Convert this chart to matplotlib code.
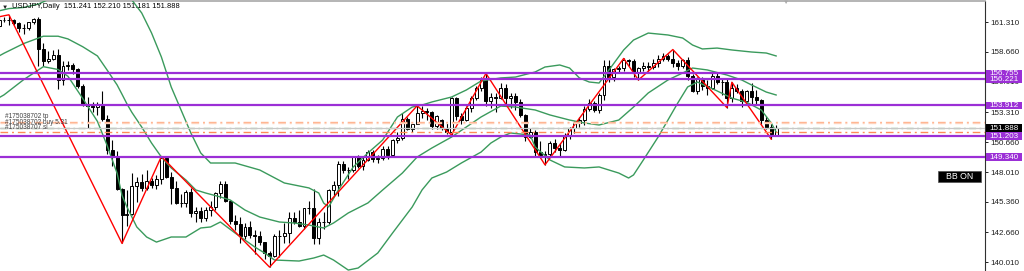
import numpy as np
import matplotlib
matplotlib.use("Agg")
import matplotlib.pyplot as plt
from matplotlib.patches import Rectangle
from matplotlib.transforms import blended_transform_factory

plt.rcParams['font.family'] = ['Liberation Sans', 'DejaVu Sans']

W, H = 1024, 271

# USDJPY daily, 1 Jul 2024 .. 10 Feb 2025
opens = [161.00, 161.46, 161.45, 161.50, 161.20, 160.75, 160.82, 161.30, 161.62, 158.88,
         157.88, 158.06, 158.38, 156.18, 157.38, 157.48, 157.10, 155.62, 153.92, 153.90,
         153.75, 153.95, 152.72, 149.98, 149.35, 146.52, 144.20, 144.30, 146.75, 147.15,
         146.62, 147.20, 146.85, 147.35, 149.28, 147.60, 146.60, 145.25, 145.28, 146.25,
         144.35, 144.55, 143.95, 144.60, 144.95, 146.15, 146.95, 145.45, 143.70, 143.40,
         142.30, 143.15, 142.40, 142.30, 141.80, 140.85, 140.60, 142.35, 142.30, 142.60,
         143.90, 143.60, 143.20, 144.80, 144.82, 142.20, 143.62, 143.55, 146.40, 146.90,
         148.70, 148.20, 148.22, 149.30, 148.58, 149.12, 149.75, 149.20, 149.25, 150.05,
         149.50, 150.85, 151.05, 152.70, 151.85, 152.30, 153.25, 153.40, 153.35, 152.05,
         152.60, 151.90, 151.60, 154.60, 152.95, 152.65, 153.70, 154.60, 155.45, 156.30,
         154.30, 154.65, 154.60, 155.45, 154.55, 154.75, 154.20, 153.05, 151.10, 151.55,
         149.75, 149.55, 149.60, 150.60, 150.10, 150.00, 151.25, 151.95, 152.40, 152.60,
         153.60, 154.10, 153.50, 154.80, 157.40, 156.40, 157.15, 157.20, 157.95, 157.85,
         156.90, 157.20, 157.45, 157.30, 157.65, 158.05, 158.30, 158.00, 157.70, 157.45,
         157.95, 156.50, 155.20, 156.30, 155.60, 155.50, 156.50, 156.00, 155.95, 154.55,
         155.50, 155.20, 154.30, 155.20, 154.65, 154.40, 152.65, 152.00, 151.241]
highs = [161.72, 161.74, 161.95, 161.55, 161.30, 161.10, 161.35, 161.70, 161.76, 159.45,
         158.70, 158.85, 158.88, 157.85, 157.85, 157.70, 157.20, 155.85, 154.65, 154.25,
         154.20, 155.22, 153.05, 150.88, 149.90, 146.60, 146.40, 147.90, 147.55, 147.80,
         148.20, 147.50, 147.75, 149.39, 149.30, 148.00, 147.20, 146.10, 146.45, 146.55,
         144.90, 144.90, 144.90, 145.45, 146.25, 147.20, 147.20, 145.55, 144.20, 144.05,
         143.50, 143.65, 142.85, 142.75, 141.85, 141.00, 142.50, 142.85, 143.50, 144.50,
         144.45, 144.65, 144.85, 145.40, 146.50, 143.95, 144.50, 146.50, 147.20, 149.00,
         148.95, 148.45, 149.40, 149.55, 149.35, 149.95, 149.98, 149.55, 150.30, 150.30,
         150.95, 151.55, 153.20, 152.90, 152.40, 153.88, 153.85, 153.70, 153.40, 153.10,
         152.75, 152.40, 154.70, 154.70, 153.25, 153.85, 154.75, 155.60, 156.40, 156.75,
         155.00, 155.00, 155.90, 155.85, 155.00, 155.00, 154.50, 153.15, 151.95, 151.75,
         150.75, 149.90, 150.75, 150.95, 150.55, 151.45, 152.00, 152.55, 152.85, 153.90,
         154.45, 154.35, 155.00, 157.90, 157.95, 157.25, 157.40, 158.08, 158.00, 158.05,
         157.35, 157.80, 157.75, 158.00, 158.40, 158.55, 158.45, 158.87, 157.95, 158.05,
         158.20, 156.70, 156.45, 156.40, 156.20, 156.75, 156.85, 156.30, 156.25, 155.97,
         155.85, 155.35, 155.30, 155.88, 155.30, 154.45, 152.95, 152.40, 152.210]
lows = [160.82, 161.27, 161.05, 161.05, 160.45, 160.25, 160.60, 161.10, 157.44, 157.38,
        157.65, 157.90, 155.37, 155.75, 157.02, 156.70, 155.45, 153.85, 151.94, 153.30,
        153.10, 152.55, 149.62, 148.51, 146.42, 141.68, 143.20, 144.20, 145.35, 146.30,
        146.40, 146.55, 146.50, 146.95, 147.50, 145.20, 145.20, 144.90, 144.95, 144.00,
        143.55, 143.60, 143.65, 144.10, 144.65, 145.70, 145.35, 143.40, 142.85, 141.75,
        142.05, 142.20, 140.70, 141.50, 140.30, 139.58, 140.50, 140.45, 141.75, 141.75,
        143.40, 143.10, 142.95, 144.30, 141.65, 141.65, 143.00, 143.40, 145.90, 145.90,
        147.90, 147.35, 148.00, 148.35, 148.20, 149.00, 148.90, 148.85, 149.05, 149.15,
        149.40, 150.60, 150.85, 151.75, 151.55, 152.25, 152.80, 152.65, 151.85, 151.80,
        151.70, 151.40, 151.30, 152.65, 152.25, 152.55, 153.30, 154.40, 155.20, 153.85,
        153.70, 153.30, 154.50, 153.90, 153.70, 153.55, 152.85, 150.80, 151.00, 149.45,
        149.45, 148.65, 149.45, 149.80, 149.40, 149.85, 150.95, 151.50, 152.00, 152.20,
        153.40, 153.30, 153.20, 154.40, 155.95, 156.10, 156.90, 157.00, 157.45, 156.40,
        156.17, 156.95, 156.95, 157.10, 157.30, 157.85, 157.85, 157.35, 157.05, 157.20,
        156.20, 155.10, 154.95, 155.30, 154.80, 155.35, 155.85, 154.80, 153.72, 154.20,
        155.00, 153.80, 154.15, 154.00, 153.95, 152.30, 151.80, 150.93, 151.181]
closes = [161.46, 161.45, 161.50, 161.20, 160.75, 160.82, 161.30, 161.62, 158.88, 157.88,
          158.06, 158.38, 156.18, 157.38, 157.48, 157.10, 155.62, 153.92, 153.90, 153.75,
          153.95, 152.72, 149.98, 149.35, 146.52, 144.20, 144.30, 146.75, 147.15, 146.62,
          147.20, 146.85, 147.35, 149.28, 147.60, 146.60, 145.25, 145.28, 146.25, 144.35,
          144.55, 143.95, 144.60, 144.95, 146.15, 146.95, 145.45, 143.70, 143.40, 142.30,
          143.15, 142.40, 142.30, 141.80, 140.85, 140.60, 142.35, 142.30, 142.60, 143.90,
          143.60, 143.20, 144.80, 144.82, 142.20, 143.62, 143.55, 146.40, 146.90, 148.70,
          148.20, 148.22, 149.30, 148.58, 149.12, 149.75, 149.20, 149.25, 150.05, 149.50,
          150.85, 151.05, 152.70, 151.85, 152.30, 153.25, 153.40, 153.35, 152.05, 152.95,
          151.90, 151.60, 154.60, 152.95, 152.65, 153.70, 154.60, 155.45, 156.30, 154.30,
          154.65, 154.60, 155.45, 154.55, 154.75, 154.20, 153.05, 151.10, 151.55, 149.75,
          149.55, 149.60, 150.60, 150.10, 150.00, 151.25, 151.95, 152.40, 152.60, 153.60,
          154.10, 153.50, 154.80, 157.40, 156.40, 157.15, 157.20, 157.95, 157.85, 156.90,
          157.20, 157.45, 157.30, 157.65, 158.05, 158.30, 158.00, 157.70, 157.45, 157.95,
          156.50, 155.20, 156.30, 155.60, 155.50, 156.50, 156.00, 155.95, 154.55, 155.50,
          155.20, 154.30, 155.20, 154.65, 154.40, 152.65, 152.00, 151.40, 151.888]

# Bollinger bands, vertices (bar index, price)
bb_up_i = [0, 2, 5, 8, 10, 14, 20, 25, 27, 29, 31, 33, 35, 37, 39, 41, 43, 48, 53, 58,
           63, 65, 66, 67, 69, 72, 75, 78, 81, 84, 86, 88, 92, 95, 98, 102, 105, 109, 111, 114,
           116, 118, 120, 122, 124, 127, 129, 132, 136, 139, 141, 143, 146, 149, 153, 156, 158]
bb_up = [162.3, 162.5, 162.6, 162.9, 163.3, 163.6, 163.8, 163.9, 163.26, 162.11,
         160.34, 158.21, 155.55, 153.51, 151.47, 149.7, 148.81, 148.81, 148.19, 147.04,
         146.6, 146.15, 145.26, 144.91, 146.42, 148.45, 149.7, 150.85, 152.89, 153.77,
         153.95, 154.22, 154.66, 155.28, 156.08, 156.35, 156.43, 156.88, 157.32, 157.5,
         157.23, 156.35, 155.99, 155.9, 157.05, 158.83, 159.71, 160.33, 160.16, 159.89,
         159.27, 158.92, 159.0, 158.83, 158.65, 158.56, 158.3]
bb_mid_i = [0, 1, 5, 9, 12, 14, 17, 20, 22, 24, 25, 26, 27, 29, 31, 33, 35, 38, 40, 42,
            45, 47, 50, 53, 57, 60, 63, 66, 68, 71, 75, 78, 82, 85, 88, 92, 95, 98, 102, 105,
            109, 112, 116, 119, 122, 126, 129, 132, 136, 139, 141, 144, 148, 151, 153, 156, 158]
bb_mid = [158.3, 158.54, 159.4, 160.05, 160.05, 159.81, 159.12, 158.3, 157.03, 155.73,
          154.9, 154.05, 153.3, 152.0, 150.58, 149.34, 148.37, 147.3, 146.42, 146.15,
          145.8, 145.53, 144.64, 144.02, 143.58, 143.49, 143.31, 143.05, 143.49, 144.38,
          145.27, 146.42, 147.92, 149.34, 150.14, 151.11, 152.0, 152.89, 153.86, 153.77,
          153.51, 153.07, 152.62, 152.36, 152.18, 152.62, 153.77, 155.02, 156.17, 156.79,
          157.23, 157.06, 156.61, 156.17, 155.73, 155.1, 154.84]
bb_low_i = [0, 1, 5, 9, 12, 14, 17, 20, 22, 23, 24, 25, 26, 28, 30, 32, 35, 38, 41, 43,
            45, 48, 52, 54, 56, 61, 64, 66, 68, 71, 73, 77, 80, 84, 86, 88, 91, 94, 98, 100,
            102, 104, 108, 109, 112, 115, 119, 122, 126, 128, 129, 131, 134, 136, 138, 140, 142,
            146, 149, 152, 155, 157, 158]
bb_low = [154.6, 154.85, 156.2, 157.35, 157.1, 156.5, 154.54, 152.5, 150.33, 149.1,
          147.9, 145.94, 144.91, 143.14, 142.25, 141.8, 142.25, 142.25, 143.05, 143.14,
          143.58, 142.6, 141.36, 140.83, 140.21, 140.12, 140.39, 140.65, 140.21, 139.32,
          139.5, 140.83, 142.6, 144.91, 146.42, 147.48, 148.01, 148.81, 149.78, 150.58,
          151.11, 151.47, 151.29, 150.23, 149.08, 148.46, 148.37, 148.46, 147.92, 147.48,
          147.75, 149.08, 151.11, 152.62, 154.13, 155.55, 155.99, 155.2, 154.56, 154.2,
          153.5, 152.36, 151.56]

# zigzag swing points (bar index, price)
zz_i = [-20, 2, 25, 33, 55, 85, 92, 99, 111, 127, 130, 137, 148, 149, 157]
zz_p = [160.0, 161.95, 141.68, 149.39, 139.58, 153.88, 151.30, 156.75, 148.65, 158.08,
        156.17, 158.87, 153.72, 155.97, 150.93]

levels = [156.755, 156.221, 153.912, 151.203, 149.340]
tp_levels = [152.47, 152.33]
entry_level = 151.94
sl_level = 151.53
bid = 151.888
yticks = [161.310, 158.660, 156.010, 153.310, 150.660, 148.010, 145.360, 142.660, 140.010]
header = "USDJPY,Daily  151.241 152.210 151.181 151.888"
order_labels = ["#175038702 tp", "#175038702 buy 5.31", "#175038707 sl"]

PURPLE = '#9b2fd6'
GREEN = '#3a9a5c'

fig = plt.figure(figsize=(W / 100, H / 100), dpi=100)
fig.patch.set_facecolor('white')
ax = fig.add_axes([0, 0, 985 / W, 270 / H])
ax.set_xlim(0.187, 200.47)
ax.set_ylim(139.236, 163.172)

o = np.array(opens); h = np.array(highs); l = np.array(lows); c = np.array(closes)
pos = np.arange(len(o))
up = c >= o

# candles
ax.vlines(pos, l, h, color='black', lw=0.8, zorder=2)
ax.bar(pos[up], (c - o)[up], bottom=o[up], width=0.6, color='white',
       edgecolor='black', lw=0.7, zorder=3)
ax.bar(pos[~up], (o - c)[~up], bottom=c[~up], width=0.6, color='black',
       edgecolor='black', lw=0.7, zorder=3)

# bands
ax.plot(bb_up_i, bb_up, color=GREEN, lw=1.0, zorder=4)
ax.plot(bb_mid_i, bb_mid, color=GREEN, lw=1.0, zorder=4)
ax.plot(bb_low_i, bb_low, color=GREEN, lw=1.0, zorder=4)

# zigzag
ax.plot(zz_i, zz_p, color='red', lw=1.0, zorder=5)

# order lines
dd = (0, (5.5, 2.8, 1.4, 2.8))
ax.axhline(tp_levels[0], color='#ffb08a', lw=1.0, ls=dd, zorder=5)
ax.axhline(tp_levels[1], color='#ffd2bc', lw=1.0, ls=dd, zorder=5)
ax.axhline(entry_level, color='#4a9a4a', lw=0.9, ls=dd, zorder=5)
ax.axhline(bid, color='#c8c8c8', lw=0.9, zorder=5)
ax.axhline(sl_level, color='#ff8a58', lw=1.0, ls=dd, zorder=5)

# horizontal levels
for lv in levels:
    ax.axhline(lv, color=PURPLE, lw=1.6, zorder=6)

# axis
ax.set_xticks([])
ax.yaxis.tick_right()
ax.set_yticks(yticks)
ax.set_yticklabels([f"{v:.3f}" for v in yticks])
ax.tick_params(axis='y', direction='out', length=2.5, width=0.7, colors='#202020',
               labelsize=5.8, pad=1.5)
for s in ('left', 'bottom'):
    ax.spines[s].set_visible(False)
ax.spines['top'].set_color('#a8a8a8')
ax.spines['top'].set_linewidth(1.2)
ax.spines['right'].set_color('#303030')
ax.spines['right'].set_linewidth(0.8)

# price labels on the axis
tr = blended_transform_factory(ax.transAxes, ax.transData)
bh = 7.6 / 11.28
for lv, fc in [(l_, PURPLE) for l_ in levels] + [(bid, 'black')]:
    ax.add_patch(Rectangle((986 / 985, lv - bh / 2), 36 / 985, bh, transform=tr,
                           facecolor=fc, edgecolor='none', clip_on=False, zorder=10))
    ax.text(1004 / 985, lv, f"{lv:.3f}", transform=tr, color='white', fontsize=5.8,
            ha='center', va='center', clip_on=False, zorder=11)

# texts
def fx(px):
    return px / W

def fy(py):
    return 1 - py / H

fig.text(fx(2), fy(7), "\u25bc", fontsize=4.5, va='center', color='#202020')
fig.text(fx(12), fy(7), header, fontsize=5.4, va='center', color='black')
fig.text(fx(783), fy(2.5), "\u25bc", fontsize=4.5, va='center', color='#a8a8a8')

for txt, py in zip(order_labels, [116.5, 122, 127.5]):
    fig.text(fx(5), fy(py), txt, fontsize=4.7, va='center', color='#404040')

fig.add_artist(Rectangle((fx(938), fy(182)), 43 / W, 11 / H, transform=fig.transFigure,
                         facecolor='black', edgecolor='#505050', lw=0.5))
fig.text(fx(959.5), fy(176.5), "BB ON", fontsize=6.3, color='white', ha='center', va='center')

fig.savefig("out.png", dpi=100, facecolor='white')
